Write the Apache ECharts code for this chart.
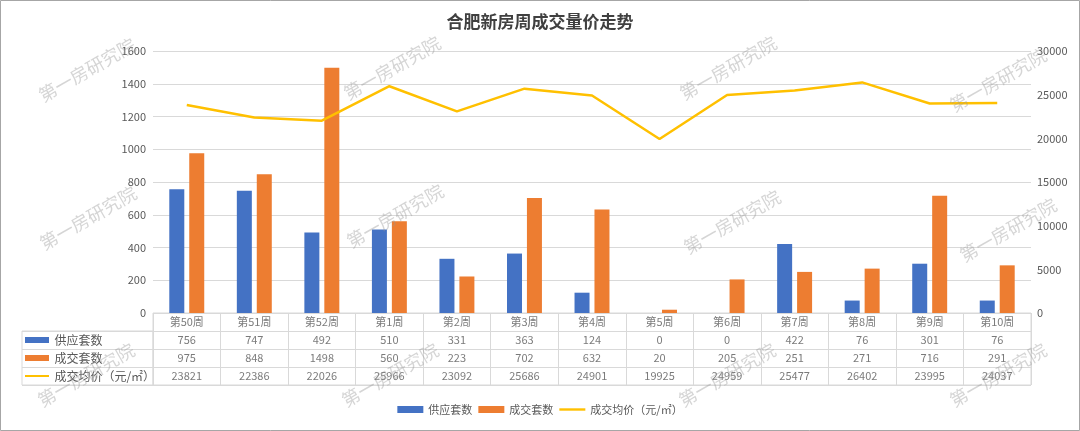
<!DOCTYPE html>
<html><head><meta charset="utf-8">
<script src="https://cdn.jsdelivr.net/npm/echarts@6/dist/echarts.min.js"></script>
<style>html,body{margin:0;padding:0;background:#fff}#c{width:1080px;height:431px}</style>
</head><body><div id="c"></div>
<script>
const categories = ['第50周','第51周','第52周','第1周','第2周','第3周','第4周','第5周','第6周','第7周','第8周','第9周','第10周'];
const supply = [756,747,492,510,331,363,124,0,0,422,76,301,76];
const deals = [975,848,1498,560,223,702,632,20,205,251,271,716,291];
const price = [23821,22386,22026,25966,23092,25686,24901,19925,24959,25477,26402,23995,24037];
const seriesNames = ['供应套数','成交套数','成交均价（元/㎡）'];
const colors = ['#4472C4','#ED7D31','#FFC000'];
const leftTicks = {min:0,max:1600,interval:200};
const rightTicks = {min:0,max:30000,interval:5000};

const FONT = '"Noto Sans CJK SC", "Noto Sans", sans-serif';
const txt = '#595959';
const gridLine = '#d9d9d9';

// table cells
const cells = [];
categories.forEach((c,i)=>{
  cells.push([i,0,c]);
  cells.push([i,1,String(supply[i])]);
  cells.push([i,2,String(deals[i])]);
  cells.push([i,3,String(price[i])]);
});

const wmPos = [[87,70],[392,68],[728,68],[998,80],[88,218],[395,216],[732,222],[1008,230],[86,375],[390,375],[727,375],[998,375]];
const graphics = wmPos.map(p=>({type:'text',x:p[0],y:p[1],rotation:0.52,z:100,silent:true,
  style:{text:'第一房研究院',font:'18px '+FONT,fill:'rgba(150,150,150,0.4)',align:'center',verticalAlign:'middle'}}));
graphics.push({type:'rect',shape:{x:0.5,y:0.5,width:1079,height:430},style:{fill:'none',stroke:'#a6a6a6',lineWidth:1},silent:true,z:-1});

const L = 153, R = 49, TT = 313, RH = 18;
const chart = echarts.init(document.getElementById('c'));
chart.setOption({
  animation:false,
  textStyle:{fontFamily:FONT},
  title:{text:'合肥新房周成交量价走势',left:'center',top:8,textStyle:{fontSize:17,fontWeight:'bold',color:'#404040',fontFamily:FONT}},
  legend:{bottom:11,left:'center',itemWidth:26,itemHeight:7,itemGap:6,textStyle:{color:txt,fontSize:11,fontFamily:FONT},
    data:[{name:seriesNames[0],icon:'rect'},{name:seriesNames[1],icon:'rect'},
      {name:seriesNames[2],icon:'path://M0,0 M0,2.3 L26,2.3 L26,4.7 L0,4.7 Z M26,7'}]},
  graphic:graphics,
  grid:[
    {left:L,right:R,top:51,bottom:431-TT},
    {left:L,right:R,top:TT,height:RH*4,show:true,borderColor:gridLine,borderWidth:1},
    {left:22,width:L-22,top:TT+RH,height:RH*3,show:true,borderColor:gridLine,borderWidth:1}
  ],
  xAxis:[
    {type:'category',data:categories,gridIndex:0,axisLine:{show:false},axisTick:{show:false},axisLabel:{show:false}},
    {type:'category',data:categories,gridIndex:1,axisLine:{show:false},axisTick:{show:false},axisLabel:{show:false},
      splitLine:{show:true,interval:0,lineStyle:{color:gridLine}}},
    {type:'value',gridIndex:2,show:false,min:0,max:1}
  ],
  yAxis:[
    {type:'value',gridIndex:0,min:leftTicks.min,max:leftTicks.max,interval:leftTicks.interval,
      axisLabel:{color:txt,fontSize:11,margin:7,formatter:v=>String(v)},axisLine:{show:false},axisTick:{show:false},
      splitLine:{lineStyle:{color:gridLine}}},
    {type:'value',gridIndex:0,position:'right',min:rightTicks.min,max:rightTicks.max,interval:rightTicks.interval,
      axisLabel:{color:txt,fontSize:11,margin:6,formatter:v=>String(v)},axisLine:{show:false},axisTick:{show:false},splitLine:{show:false}},
    {type:'category',gridIndex:1,data:['h','a','b','c'],inverse:true,axisLine:{show:false},axisTick:{show:false},axisLabel:{show:false},
      splitLine:{show:true,interval:0,lineStyle:{color:gridLine}}},
    {type:'category',gridIndex:2,data:seriesNames,inverse:true,axisLine:{show:false},axisTick:{show:false},
      splitLine:{show:true,interval:0,lineStyle:{color:gridLine}},
      axisLabel:{inside:true,margin:3,align:'left',color:txt,fontSize:12,fontFamily:FONT,
        formatter:(v,i)=>'{i'+i+'|}  '+v,
        rich:{
          i0:{width:24,height:6,backgroundColor:colors[0]},
          i1:{width:24,height:6,backgroundColor:colors[1]},
          i2:{width:24,height:2,backgroundColor:colors[2]}
        }}}
  ],
  series:[
    {name:seriesNames[0],type:'bar',data:supply,xAxisIndex:0,yAxisIndex:0,barWidth:15,barGap:'33%',itemStyle:{color:colors[0]}},
    {name:seriesNames[1],type:'bar',data:deals,xAxisIndex:0,yAxisIndex:0,barWidth:15,barGap:'33%',itemStyle:{color:colors[1]}},
    {name:seriesNames[2],type:'line',data:price,xAxisIndex:0,yAxisIndex:1,symbol:'none',lineStyle:{width:2.5,color:colors[2]},itemStyle:{color:colors[2]},z:5},
    {type:'scatter',xAxisIndex:1,yAxisIndex:2,data:cells,symbolSize:1,itemStyle:{color:'rgba(0,0,0,0)'},silent:true,
      label:{show:true,position:'inside',formatter:p=>p.value[2],color:txt,fontSize:11,fontFamily:FONT}}
  ]
});
</script></body></html>
